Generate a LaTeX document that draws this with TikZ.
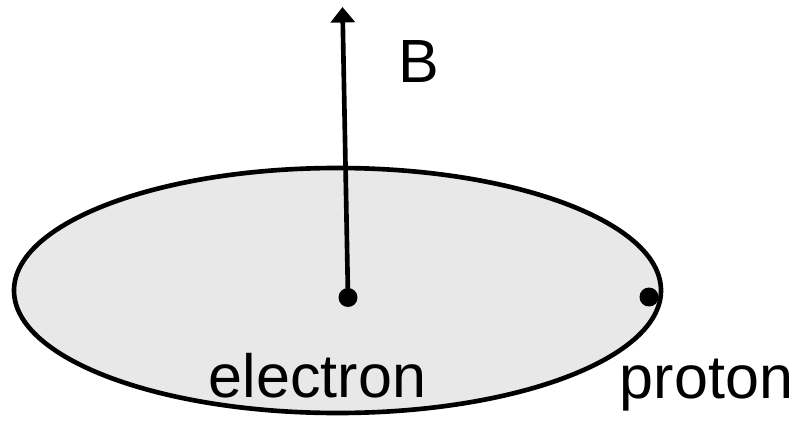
\documentclass[tikz,border=0pt]{standalone}
\usepackage{fontspec}
\setmainfont{Liberation Sans}
\usetikzlibrary{arrows.meta}
\definecolor{disc}{HTML}{E8E8E8}

\begin{document}
\begin{tikzpicture}[x=0.025cm,y=-0.025cm,
    particle/.style={circle,fill=black,inner sep=0pt,minimum size=13.5pt},
    label/.style={font=\fontsize{43.4}{50}\selectfont,anchor=base,inner sep=0pt}]
  \useasboundingbox (0,0) rectangle (798,421);
  \draw[line width=3.3pt,fill=disc] (337.5,290.5) ellipse[x radius=323.5, y radius=122.5];
  \node[particle] (electron) at (348,297.5) {};
  \node[particle] (proton) at (649,297) {};
  \coordinate (Btip) at (342.5,7);
  \draw[line width=3.3pt,-{Triangle[length=11pt,width=17pt]}] (electron.center) -- (Btip);
  \node[label] (B) at (418.5,82) {B};
  \node[label] (elabel) at (317.5,397) {electron};
  \node[label] (plabel) at (706.5,398) {proton};
\end{tikzpicture}
\end{document}
